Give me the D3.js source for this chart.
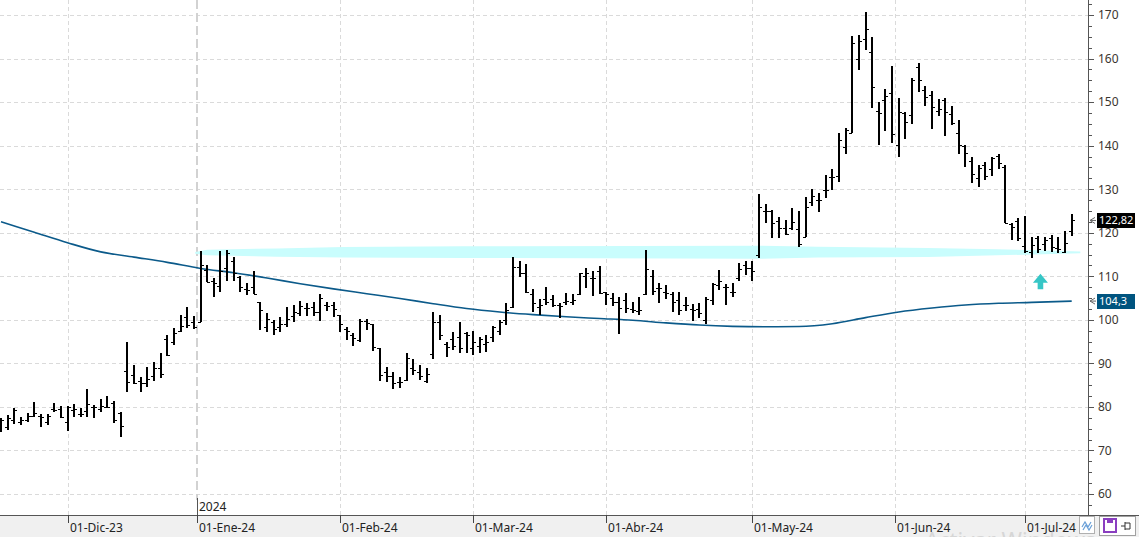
<!DOCTYPE html>
<html><head><meta charset="utf-8">
<script src="https://cdn.jsdelivr.net/npm/d3@7"></script>
<style>html,body{margin:0;padding:0;background:#fff;overflow:hidden}svg{display:block;font-family:'Noto Sans',sans-serif}</style>
</head><body><svg id="c" width="1139" height="537"></svg>
<script>
// ---------------- DATA ----------------
const dates = [
"2023-11-16","2023-11-17","2023-11-20","2023-11-21","2023-11-22","2023-11-24","2023-11-27","2023-11-28","2023-11-29","2023-11-30",
"2023-12-01","2023-12-04","2023-12-05","2023-12-06","2023-12-07","2023-12-08","2023-12-11","2023-12-12","2023-12-13","2023-12-14",
"2023-12-15","2023-12-18","2023-12-19","2023-12-20","2023-12-21","2023-12-22","2023-12-26","2023-12-27","2023-12-28","2023-12-29",
"2024-01-02","2024-01-03","2024-01-04","2024-01-05","2024-01-08","2024-01-09","2024-01-10","2024-01-11","2024-01-12","2024-01-16",
"2024-01-17","2024-01-18","2024-01-19","2024-01-22","2024-01-23","2024-01-24","2024-01-25","2024-01-26","2024-01-29","2024-01-30",
"2024-01-31","2024-02-01","2024-02-02","2024-02-05","2024-02-06","2024-02-07","2024-02-08","2024-02-09","2024-02-12","2024-02-13",
"2024-02-14","2024-02-15","2024-02-16","2024-02-20","2024-02-21","2024-02-22","2024-02-23","2024-02-26","2024-02-27","2024-02-28",
"2024-02-29","2024-03-01","2024-03-04","2024-03-05","2024-03-06","2024-03-07","2024-03-08","2024-03-11","2024-03-12","2024-03-13",
"2024-03-14","2024-03-15","2024-03-18","2024-03-19","2024-03-20","2024-03-21","2024-03-22","2024-03-25","2024-03-26","2024-03-27",
"2024-03-28","2024-04-01","2024-04-02","2024-04-03","2024-04-04","2024-04-05","2024-04-08","2024-04-09","2024-04-10","2024-04-11",
"2024-04-12","2024-04-15","2024-04-16","2024-04-17","2024-04-18","2024-04-19","2024-04-22","2024-04-23","2024-04-24","2024-04-25",
"2024-04-26","2024-04-29","2024-04-30","2024-05-01","2024-05-02","2024-05-03","2024-05-06","2024-05-07","2024-05-08","2024-05-09",
"2024-05-10","2024-05-13","2024-05-14","2024-05-15","2024-05-16","2024-05-17","2024-05-20","2024-05-21","2024-05-22","2024-05-23",
"2024-05-24","2024-05-28","2024-05-29","2024-05-30","2024-05-31","2024-06-03","2024-06-04","2024-06-05","2024-06-06","2024-06-07",
"2024-06-10","2024-06-11","2024-06-12","2024-06-13","2024-06-14","2024-06-17","2024-06-18","2024-06-20","2024-06-21","2024-06-24",
"2024-06-25","2024-06-26","2024-06-27","2024-06-28","2024-07-01","2024-07-02","2024-07-03","2024-07-05","2024-07-08","2024-07-09",
"2024-07-10","2024-07-11"];

const open = [
76.0,75.5,77.0,76.5,77.0,78.0,78.0,76.5,79.5,79.5,
76.6,79.4,78.4,79.0,80.0,79.5,80.0,81.0,78.7,88.3,
87.3,86.0,85.5,87.0,89.0,95.5,95.0,97.5,100.6,99.5,
99.6,111.5,108.8,107.8,111.8,113.6,109.8,107.0,107.5,104.0,
98.3,99.4,98.3,99.0,100.9,101.5,102.6,103.0,101.9,103.5,
103.5,101.0,98.0,96.5,95.4,99.8,99.0,93.5,88.0,87.0,
85.8,86.2,89.0,88.0,86.0,92.2,99.6,94.5,95.5,96.0,
97.0,93.5,94.0,94.5,96.0,97.5,100.0,103.0,112.2,110.7,
106.0,103.0,104.7,104.7,103.5,104.0,104.0,106.0,110.0,109.5,
111.1,106.5,105.0,104.0,104.5,102.5,102.0,106.0,110.0,107.2,
106.5,106.0,104.5,103.5,102.5,102.5,100.0,104.6,108.0,107.6,
106.5,109.5,112.5,112.0,114.9,125.1,125.0,122.8,121.0,121.0,
120.8,119.1,127.1,127.5,129.8,132.9,133.0,139.8,143.0,159.8,
164.4,161.6,148.0,150.5,152.0,140.2,147.5,147.0,158.0,152.8,
151.6,148.0,150.5,147.3,142.8,140.0,136.5,132.5,135.5,134.6,
137.6,135.2,122.0,122.8,117.0,115.5,118.7,117.4,118.7,116.4,
115.5,120.3];

const high = [
77.5,78.1,79.7,77.6,78.5,81.2,78.3,78.3,80.8,80.2,
80.2,80.7,79.7,84.1,80.4,81.8,82.4,81.4,78.9,94.8,
89.6,86.8,89.2,90.2,92.3,96.5,98.1,101.1,103.0,100.9,
115.9,112.6,109.5,115.9,116.0,114.5,110.1,108.5,111.1,104.2,
101.6,100.0,100.6,103.0,103.4,104.4,103.8,104.2,105.9,104.2,
104.2,101.1,98.4,96.9,100.1,100.1,99.1,93.5,89.2,88.1,
86.9,92.3,91.0,89.6,88.9,101.9,101.1,95.0,97.3,99.4,
97.1,97.5,96.1,96.5,98.6,100.0,103.9,114.5,113.6,112.8,
107.0,104.7,107.6,105.7,103.8,106.2,105.9,110.8,111.8,111.1,
112.4,106.5,106.2,105.3,106.2,104.2,105.3,116.0,111.4,108.5,
108.0,106.5,106.5,105.3,103.6,103.8,105.3,108.4,111.4,108.2,
108.4,113.1,113.4,113.6,128.9,126.6,125.2,123.7,122.9,125.6,
125.1,128.1,130.0,129.2,133.3,134.6,142.8,144.0,165.2,165.4,
170.8,165.0,150.1,152.9,158.3,150.9,147.8,155.5,158.9,153.7,
152.6,150.6,150.9,149.1,145.9,140.2,137.3,135.6,136.3,137.5,
138.1,135.6,122.3,123.3,123.9,119.1,119.3,119.0,119.5,119.0,
120.3,124.3];

const low = [
74.3,74.7,76.0,75.8,76.6,77.6,75.5,75.8,78.9,77.4,
74.5,77.6,77.6,77.6,77.4,78.9,79.7,76.2,73.2,83.5,
85.3,83.5,84.6,86.0,86.6,91.7,94.2,97.3,98.1,97.8,
99.4,108.6,105.3,106.5,108.8,108.8,106.5,105.7,105.9,97.7,
97.3,96.5,97.3,98.4,99.6,100.9,100.9,100.9,99.8,102.1,
100.6,97.1,95.4,94.0,95.0,97.7,92.9,86.0,85.8,84.1,
84.3,86.0,87.3,86.2,85.4,91.0,95.4,91.4,93.1,92.3,
92.3,91.9,92.3,92.5,95.0,96.5,98.8,102.6,109.9,106.2,
101.9,101.1,103.4,103.0,100.4,103.4,103.4,105.7,107.2,105.5,
105.9,103.4,103.2,96.7,101.6,101.5,101.1,105.7,105.7,103.8,
104.7,101.9,101.1,102.1,99.8,100.4,99.1,103.4,106.9,103.4,
105.3,108.8,110.3,109.0,114.1,122.2,118.7,118.7,119.5,120.6,
116.7,119.0,126.1,124.8,127.9,129.8,131.7,138.1,142.8,157.4,
162.0,148.6,140.2,143.4,140.7,137.5,141.5,145.0,152.4,149.1,
143.8,146.8,142.2,144.7,138.1,135.2,131.5,130.6,132.1,133.0,
134.6,122.2,118.3,118.2,115.3,114.1,115.3,115.7,115.5,115.3,
115.3,119.3];

const close = [
77.0,77.4,79.3,77.0,78.0,78.5,77.6,78.0,79.2,77.6,
79.9,79.6,78.4,80.7,80.0,80.2,79.9,76.9,75.6,85.8,
85.6,85.4,86.3,88.9,87.6,92.0,96.9,98.6,98.8,98.4,
112.6,108.6,108.5,111.1,115.4,110.8,107.5,106.9,105.9,102.3,
100.3,98.0,99.0,100.3,101.8,103.2,102.6,101.9,104.9,103.2,
102.4,99.1,97.5,95.8,99.8,99.2,93.7,87.3,87.0,85.5,
85.8,91.2,88.5,87.1,87.6,99.6,96.5,93.8,94.0,93.5,
96.5,95.0,95.5,95.0,98.3,99.5,102.3,112.2,110.7,106.5,
103.8,103.4,104.2,103.4,103.2,104.4,104.6,110.7,110.7,109.5,
106.2,105.9,104.0,102.6,102.6,102.3,102.3,111.6,106.7,107.2,
106.1,104.0,102.3,103.4,102.3,101.6,104.7,108.2,108.8,107.6,
106.5,111.6,111.8,111.3,125.8,125.1,122.2,121.0,119.8,122.5,
117.4,125.8,128.5,127.5,129.8,132.9,141.3,143.5,163.5,164.1,
166.7,153.4,147.5,151.4,142.7,147.8,145.5,155.1,155.0,151.1,
148.8,148.5,147.8,145.3,140.2,138.2,133.5,134.8,133.0,137.1,
136.0,122.3,121.3,118.7,115.9,117.2,116.2,118.3,116.7,116.2,
117.7,122.82];

// moving average read at sample bars
const maBar   = [0,5,10,15,20,25,30,35,40,45,50,55,60,65,70,75,80,85,90,95,100,105,110,115,120,125,130,135,140,145,150,155,161];
const maValue = [122.5,120.1,117.7,115.6,114.4,113.2,111.8,110.8,109.6,108.3,107.1,106.0,104.9,103.7,102.6,101.8,101.2,100.7,100.3,99.9,99.3,98.8,98.5,98.4,98.45,99.1,100.5,101.8,102.7,103.4,103.8,104.0,104.3];

// hand-drawn support zone (cyan band)
const bandBar  = [29.2,31,41.5,51.4,69.5,114.1,122.9,139.4,149.8,162.3];
const bandHigh = [115.6,116.1,116.4,116.7,116.9,117.0,116.8,116.5,116.2,115.7];
const bandLow  = [115.2,114.8,114.5,114.3,114.2,114.0,114.3,114.4,114.8,115.3];

const monthTickDates  = ["2023-12-01","2024-01-01","2024-02-01","2024-03-01","2024-04-01","2024-05-01","2024-06-01","2024-07-01"];
const monthTickLabels = ["01-Dic-23","01-Ene-24","01-Feb-24","01-Mar-24","01-Abr-24","01-May-24","01-Jun-24","01-Jul-24"];
const yearLabel = "2024", yearDate = "2024-01-01";
const yTicks = [60,70,80,90,100,110,120,130,140,150,160,170];
const lastPrice = 122.82, lastPriceLabel = "122,82";
const maLast = 104.3, maLastLabel = "104,3";
const signalBar = 156.3, signalTop = 110.6, signalBottom = 107.0;
const watermark = "Activar Windows";

// ---------------- LAYOUT ----------------
const W = 1139, H = 537;
const axisX = 1088, axisY = 515;
const svg = d3.select("#c");
const x = d3.scaleLinear().domain([0, dates.length - 1]).range([1, 1071.7]);
const y = d3.scaleLinear().domain([60, 170]).range([494, 15]);

function datePos(ds) {
  const i = dates.findIndex(d => d >= ds);
  return dates[i] === ds ? i : i - 0.5;
}

svg.append("rect").attr("width", W).attr("height", H).attr("fill", "#fff");

// horizontal grid
svg.append("g").selectAll("line").data(yTicks).join("line")
  .attr("x1", 0).attr("x2", axisX)
  .attr("y1", d => Math.round(y(d)) + 0.5).attr("y2", d => Math.round(y(d)) + 0.5)
  .attr("stroke", "#dadada").attr("stroke-dasharray", "4,3");

// vertical month grid
const monthPos = monthTickDates.map(datePos);
svg.append("g").selectAll("line").data(monthPos.filter((p, i) => monthTickDates[i] !== yearDate)).join("line")
  .attr("x1", d => Math.round(x(d)) + 0.5).attr("x2", d => Math.round(x(d)) + 0.5)
  .attr("y1", 0).attr("y2", axisY)
  .attr("stroke", "#dadada").attr("stroke-dasharray", "4,3");

// year separator
const yearX = Math.round(x(datePos(yearDate)));
svg.append("line").attr("x1", yearX).attr("x2", yearX).attr("y1", 0).attr("y2", 500)
  .attr("stroke", "#d2d2d2").attr("stroke-width", 2).attr("stroke-dasharray", "9,4");
svg.append("line").attr("x1", yearX + 0.5).attr("x2", yearX + 0.5).attr("y1", 498).attr("y2", axisY)
  .attr("stroke", "#555");
svg.append("text").attr("x", yearX + 2).attr("y", 511).attr("font-size", 12).attr("fill", "#222").text(yearLabel);

// support band
const bandData = bandBar.map((b, i) => ({b, hi: bandHigh[i], lo: bandLow[i]}));
svg.append("path").datum(bandData)
  .attr("d", d3.area().x(d => x(d.b)).y0(d => y(d.lo)).y1(d => y(d.hi)).curve(d3.curveLinear))
  .attr("fill", "#c9fdfd");

// moving average
const maData = maBar.map((b, i) => ({b, v: maValue[i]}));
svg.append("path").datum(maData)
  .attr("d", d3.line().x(d => x(d.b)).y(d => y(d.v)).curve(d3.curveMonotoneX))
  .attr("fill", "none").attr("stroke", "#0b5a8a").attr("stroke-width", 1.6);

// OHLC bars
const bars = svg.append("g").attr("stroke", "#000").attr("shape-rendering", "crispEdges");
dates.forEach((d, i) => {
  const cx = Math.round(x(i));
  bars.append("line").attr("x1", cx).attr("x2", cx)
    .attr("y1", y(high[i])).attr("y2", y(low[i])).attr("stroke-width", 2);
  bars.append("line").attr("x1", cx - 3).attr("x2", cx)
    .attr("y1", Math.round(y(open[i])) + 0.5).attr("y2", Math.round(y(open[i])) + 0.5).attr("stroke-width", 1);
  bars.append("line").attr("x1", cx).attr("x2", cx + 3)
    .attr("y1", Math.round(y(close[i])) + 0.5).attr("y2", Math.round(y(close[i])) + 0.5).attr("stroke-width", 1);
});

// signal arrow
const ax = x(signalBar), at = y(signalTop), ab = y(signalBottom);
const headH = (ab - at) * 0.58;
svg.append("path")
  .attr("d", `M${ax},${at} L${ax + 7.5},${at + headH} L${ax + 2.8},${at + headH} L${ax + 2.8},${ab} L${ax - 2.8},${ab} L${ax - 2.8},${at + headH} L${ax - 7.5},${at + headH} Z`)
  .attr("fill", "#36c6c6");

// right axis
svg.append("rect").attr("x", axisX).attr("y", 0).attr("width", W - axisX).attr("height", axisY).attr("fill", "#fff");
svg.append("line").attr("x1", axisX + 0.5).attr("x2", axisX + 0.5).attr("y1", 0).attr("y2", axisY).attr("stroke", "#555");
const minor = d3.range(57.5, 173, 2.5).filter(v => Math.abs(v % 10) > 0.01);
svg.append("g").selectAll("line").data(minor).join("line")
  .attr("x1", axisX).attr("x2", axisX + 4)
  .attr("y1", d => Math.round(y(d)) + 0.5).attr("y2", d => Math.round(y(d)) + 0.5).attr("stroke", "#555");
svg.append("g").selectAll("line").data(yTicks).join("line")
  .attr("x1", axisX).attr("x2", axisX + 6)
  .attr("y1", d => Math.round(y(d)) + 0.5).attr("y2", d => Math.round(y(d)) + 0.5).attr("stroke", "#555");
svg.append("g").selectAll("text").data(yTicks).join("text")
  .attr("x", 1098).attr("y", d => y(d)).attr("dy", "0.36em")
  .attr("font-size", 12).attr("fill", "#3a3530").text(d => d);

// value labels
function valueTag(v, label, fill) {
  const yy = y(v);
  svg.append("path").attr("d", `M1095,${yy - 3} L1090,${yy} L1095,${yy + 3} M1090,${yy} L1096,${yy}`)
    .attr("fill", "none").attr("stroke", "#666");
  svg.append("rect").attr("x", 1097).attr("y", Math.round(yy) - 7).attr("width", 38).attr("height", 15).attr("fill", fill);
  svg.append("text").attr("x", 1099).attr("y", yy).attr("dy", "0.36em")
    .attr("font-size", 11).attr("fill", "#fff").text(label);
}
valueTag(lastPrice, lastPriceLabel, "#000");
valueTag(maLast, maLastLabel, "#00547f");

// bottom axis strip
svg.append("rect").attr("x", 0).attr("y", axisY).attr("width", W).attr("height", H - axisY).attr("fill", "#f0f0f0");
svg.append("line").attr("x1", 0).attr("x2", W).attr("y1", axisY + 0.5).attr("y2", axisY + 0.5).attr("stroke", "#555");
svg.append("g").selectAll("line").data(monthPos).join("line")
  .attr("x1", d => Math.round(x(d)) + 0.5).attr("x2", d => Math.round(x(d)) + 0.5)
  .attr("y1", axisY).attr("y2", axisY + 8).attr("stroke", "#444");

// watermark (faint, behind the labels)
svg.append("text").attr("x", 925).attr("y", 548).attr("font-size", 22).attr("fill", "#d6d6d6").text(watermark);

svg.append("g").selectAll("text").data(monthPos).join("text")
  .attr("x", d => Math.round(x(d)) + 2).attr("y", 532)
  .attr("font-size", 12).attr("fill", "#222").text((d, i) => monthTickLabels[i]);

// icons bottom-right
svg.append("rect").attr("x", 1079.5).attr("y", 516.5).attr("width", 15).attr("height", 17).attr("fill", "#fff").attr("stroke", "#b0b0b0");
svg.append("path").attr("d", "M1082,527 L1085,522 L1088,527 L1091,522 M1083,530 L1086,525 L1089,530 L1092,525")
  .attr("fill", "none").attr("stroke", "#6aa0d8").attr("stroke-width", 1.2);
svg.append("rect").attr("x", 1099.5).attr("y", 516.5).attr("width", 36).attr("height", 19).attr("fill", "#fff").attr("stroke", "#a0a0a0");
svg.append("rect").attr("x", 1104).attr("y", 519).attr("width", 12).attr("height", 13).attr("fill", "none").attr("stroke", "#8a3fc0").attr("stroke-width", 2);
svg.append("rect").attr("x", 1107).attr("y", 519).attr("width", 6).attr("height", 4).attr("fill", "#8a3fc0");
svg.append("path").attr("d", "M1121,526 L1125,526 M1125,522 L1125,530 M1125,523 L1130,523 L1130,529 L1125,529")
  .attr("fill", "none").attr("stroke", "#333");
</script></body></html>
